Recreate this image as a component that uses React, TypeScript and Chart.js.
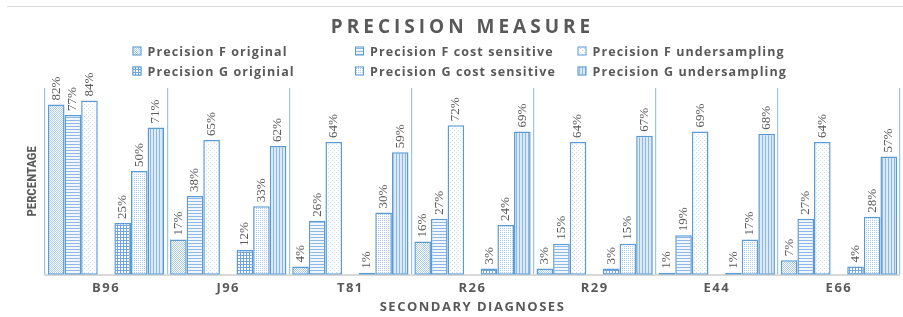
import React, { useEffect, useRef } from 'react';
import { Chart, registerables } from 'chart.js';

Chart.register(...registerables);

const categories = ['B96', 'J96', 'T81', 'R26', 'R29', 'E44', 'E66'];
const precisionFOriginal = [82, 17, 4, 16, 3, 1, 7];
const precisionFCost = [77, 38, 26, 27, 15, 19, 27];
const precisionFUnder = [84, 65, 64, 72, 64, 69, 64];
const precisionGOriginal = [25, 12, 1, 3, 3, 1, 4];
const precisionGCost = [50, 33, 30, 24, 15, 17, 28];
const precisionGUnder = [71, 62, 59, 69, 67, 68, 57];
const seriesLabels = [
  'Precision F original',
  'Precision F cost sensitive',
  'Precision F undersampling',
  'Precision G originial',
  'Precision G cost sensitive',
  'Precision G undersampling',
];
const titleText = 'PRECISION MEASURE';
const xTitle = 'SECONDARY DIAGNOSES';
const yTitle = 'PERCENTAGE';
const yMax = 90;

const BORDER = '#5B9BD5';
const TEXT = '#595959';

type Kind = 'checker' | 'hlines' | 'sparse' | 'grid' | 'dots' | 'vlines';

function makePattern(kind: Kind): CanvasPattern {
  const c = document.createElement('canvas');
  const g = c.getContext('2d')!;
  const fill = (w: number, h: number, col: string) => {
    c.width = w;
    c.height = h;
    g.fillStyle = col;
    g.fillRect(0, 0, w, h);
  };
  const px = (x: number, y: number, col: string, w = 1, h = 1) => {
    g.fillStyle = col;
    g.fillRect(x, y, w, h);
  };
  switch (kind) {
    case 'checker':
      fill(2, 2, '#ffffff');
      px(0, 0, '#A9CBEC');
      px(1, 1, '#A9CBEC');
      break;
    case 'hlines':
      fill(1, 3, '#F2F7FC');
      px(0, 0, '#8DB8E5');
      break;
    case 'sparse':
      fill(4, 4, '#ffffff');
      px(0, 0, '#C3D9F0');
      px(2, 2, '#C3D9F0');
      break;
    case 'grid':
      fill(3, 3, '#ffffff');
      px(0, 0, '#6FA6DC', 3, 1);
      px(0, 0, '#6FA6DC', 1, 3);
      break;
    case 'dots':
      fill(2, 2, '#ffffff');
      px(0, 0, '#A9CBEC');
      break;
    case 'vlines':
      fill(3, 1, '#DCE9F7');
      px(0, 0, '#8DB8E5');
      break;
  }
  return g.createPattern(c, 'repeat')!;
}

const kinds: Kind[] = ['checker', 'hlines', 'sparse', 'grid', 'dots', 'vlines'];

const spacingPlugin = {
  id: 'spacing',
  beforeDraw(chart: any) {
    (chart.ctx as any).letterSpacing = '1.5px';
  },
};

const labelPlugin = {
  id: 'barLabels',
  afterDatasetsDraw(chart: any) {
    const ctx = chart.ctx;
    ctx.save();
    ctx.letterSpacing = '0px';
    ctx.font = '13px "Liberation Serif"';
    ctx.fillStyle = TEXT;
    ctx.textAlign = 'left';
    ctx.textBaseline = 'middle';
    chart.data.datasets.forEach((ds: any, i: number) => {
      if (!ds.label) return;
      const meta = chart.getDatasetMeta(i);
      meta.data.forEach((el: any, j: number) => {
        const v = ds.data[j];
        if (v == null) return;
        ctx.save();
        ctx.translate(el.x, el.y - 4);
        ctx.rotate(-Math.PI / 2);
        ctx.fillText(v + '%', 0, 0);
        ctx.restore();
      });
    });
    ctx.restore();
  },
};

const headerPlugin = {
  id: 'header',
  afterDraw(chart: any) {
    const ctx = chart.ctx as CanvasRenderingContext2D;
    const w = chart.width;
    const area = chart.chartArea;
    ctx.save();
    // frame top line
    ctx.strokeStyle = '#D9D9D9';
    ctx.lineWidth = 1;
    ctx.beginPath();
    ctx.moveTo(7, 6.5);
    ctx.lineTo(w, 6.5);
    ctx.stroke();
    // title
    ctx.fillStyle = TEXT;
    ctx.font = 'bold 19px "Open Sans"';
    (ctx as any).letterSpacing = '4px';
    ctx.textAlign = 'center';
    ctx.textBaseline = 'alphabetic';
    ctx.fillText(titleText, w / 2 + 11, 33);
    // y axis title
    ctx.save();
    (ctx as any).letterSpacing = '0px';
    ctx.font = 'bold 13px "Liberation Sans Narrow", "Roboto Condensed", Roboto';
    ctx.textAlign = 'center';
    ctx.textBaseline = 'middle';
    ctx.translate(area.left - 12, (area.top + area.bottom) / 2);
    ctx.rotate(-Math.PI / 2);
    ctx.fillText(yTitle, 0, 0);
    ctx.restore();
    // legend
    const colW = 222.5;
    const x0 = w / 2 - 319;
    const rowsY = [51, 71];
    ctx.font = 'bold 12.5px "Open Sans"';
    (ctx as any).letterSpacing = '1.1px';
    ctx.textAlign = 'left';
    ctx.textBaseline = 'alphabetic';
    const sets = chart.data.datasets.filter((d: any) => d.label);
    sets.forEach((ds: any, i: number) => {
      const col = i % 3;
      const row = Math.floor(i / 3);
      const x = x0 + col * colW;
      const y = rowsY[row];
      ctx.fillStyle = ds.backgroundColor;
      ctx.fillRect(x, y - 4.5, 9, 9);
      ctx.strokeStyle = BORDER;
      ctx.lineWidth = 1;
      ctx.strokeRect(x + 0.5, y - 4, 8, 8);
      ctx.fillStyle = TEXT;
      ctx.fillText(ds.label, x + 15, y + 5);
    });
    ctx.restore();
  },
};

export default function App() {
  const ref = useRef<HTMLCanvasElement>(null);
  useEffect(() => {
    document.body.style.margin = '0';
    const canvas = ref.current!;
    const patterns = kinds.map((k) => makePattern(k));
    const seriesData = [
      precisionFOriginal,
      precisionFCost,
      precisionFUnder,
      precisionGOriginal,
      precisionGCost,
      precisionGUnder,
    ];
    const mk = (i: number) => ({
      label: seriesLabels[i],
      data: seriesData[i],
      backgroundColor: patterns[i],
      borderColor: BORDER,
      borderWidth: 1.5,
      borderSkipped: false as const,
      categoryPercentage: 0.952,
      barPercentage: 1.0,
    });
    const spacer = {
      label: '',
      data: categories.map(() => null),
      backgroundColor: 'transparent',
      borderWidth: 0,
      categoryPercentage: 0.952,
      barPercentage: 1.0,
    };
    const chart = new Chart(canvas, {
      type: 'bar',
      data: {
        labels: categories,
        datasets: [mk(0), mk(1), mk(2), spacer as any, mk(3), mk(4), mk(5)],
      },
      options: {
        animation: false,
        responsive: false,
        maintainAspectRatio: false,
        layout: { padding: { top: 88, left: 45, right: 3, bottom: 0 } },
        plugins: {
          legend: { display: false },
          title: { display: false },
          tooltip: { enabled: false },
        },
        scales: {
          x: {
            offset: true,
            grid: { display: true, offset: true, color: '#9DC3E6', lineWidth: 1.2, drawTicks: false },
            border: { display: true, color: '#D9D9D9', width: 2 },
            ticks: {
              color: TEXT,
              padding: 6,
              font: { family: '"Open Sans"', size: 13, weight: 'bold' },
            },
            title: {
              display: true,
              text: xTitle,
              color: TEXT,
              padding: { top: -3, bottom: 2 },
              font: { family: '"Open Sans"', size: 13, weight: 'bold' },
            },
          },
          y: {
            min: 0,
            max: yMax,
            ticks: { display: false },
            grid: { display: false, drawTicks: false },
            border: { display: false },
            title: { display: false },
          },
        },
      },
      plugins: [spacingPlugin, labelPlugin, headerPlugin],
    });
    return () => chart.destroy();
  }, []);
  return (
    <div style={{ width: 903, height: 317, position: 'relative', background: '#fff' }}>
      <canvas ref={ref} width={903} height={317} style={{ display: 'block' }} />
    </div>
  );
}
